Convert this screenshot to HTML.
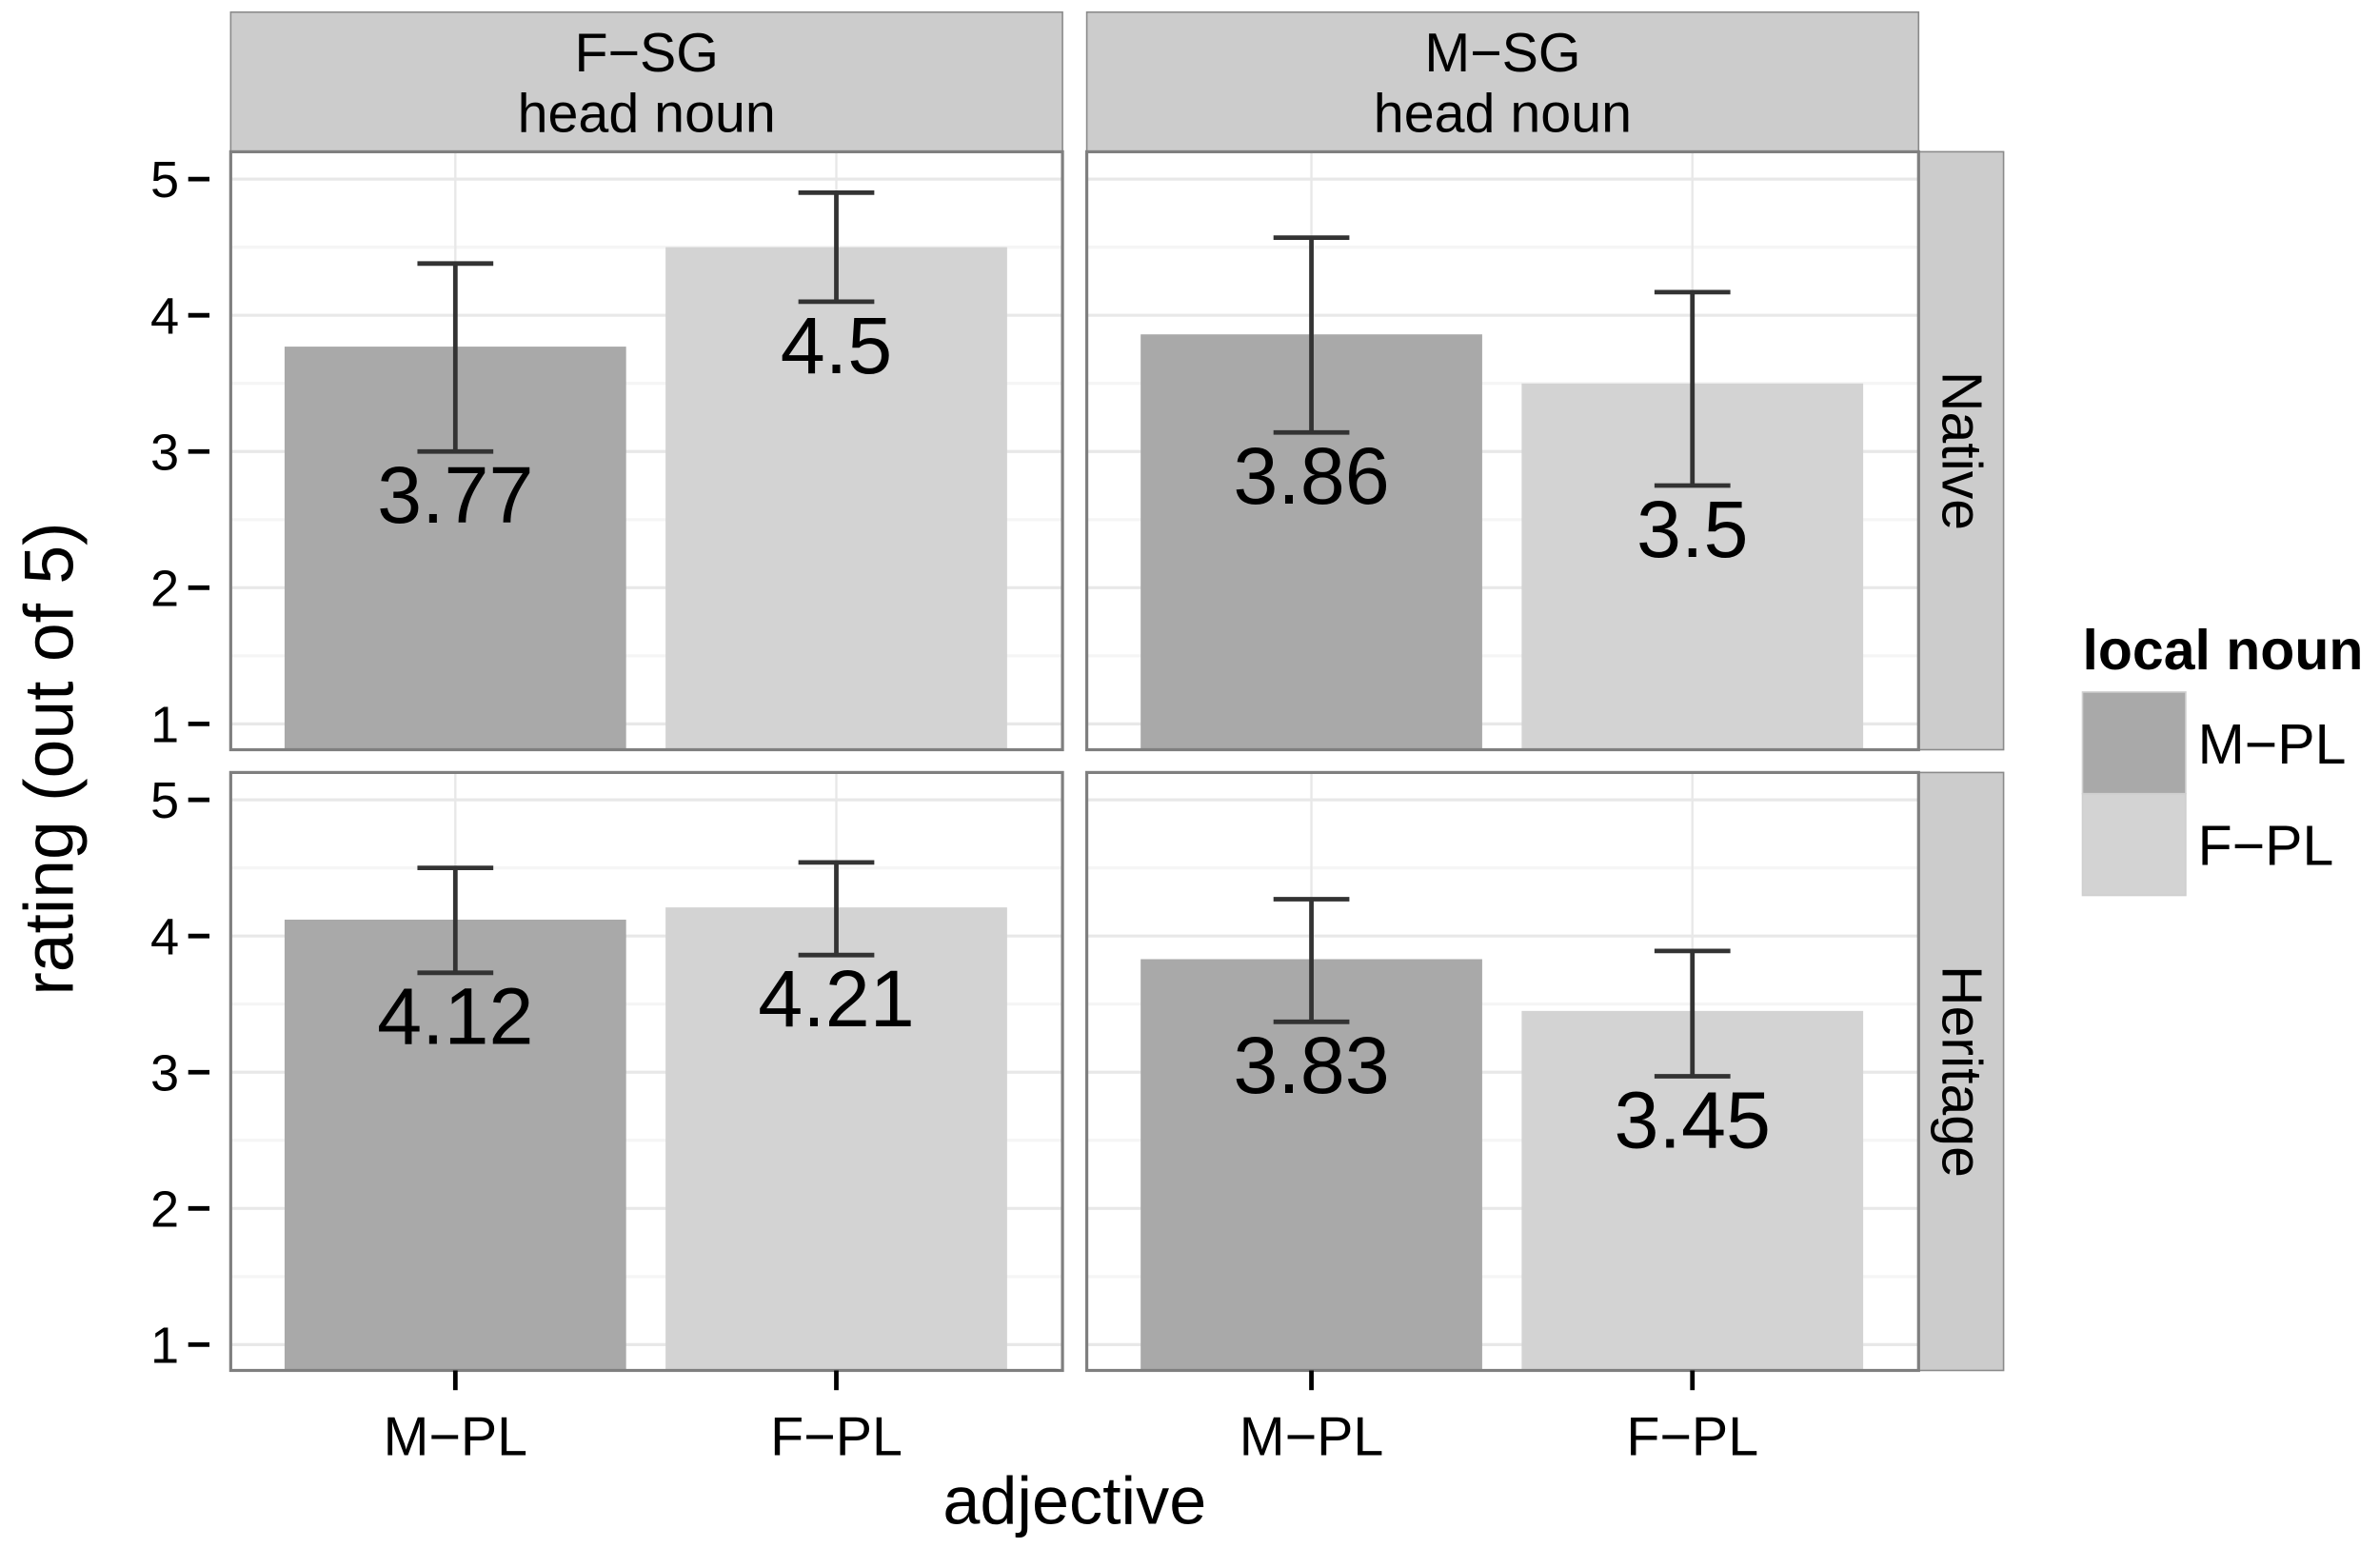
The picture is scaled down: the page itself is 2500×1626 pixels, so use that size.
<!DOCTYPE html>
<html><head><meta charset="utf-8"><style>
html,body{margin:0;padding:0;background:#fff}
svg{display:block}
text{font-family:"Liberation Sans",sans-serif;fill:#000}
</style></head><body>
<svg id="chart" width="2500" height="1626" viewBox="0 0 1568 1020" preserveAspectRatio="none" xmlns="http://www.w3.org/2000/svg">
<g id="root"></g>
</svg>
<script>
const headNouns = ["F−SG", "M−SG"];
const groups = ["Native", "Heritage"];
const adjectives = ["M−PL", "F−PL"];
const yTicks = [1, 2, 3, 4, 5];
// values[group][headNoun][adjective]
const meanNative = [[3.77, 4.5], [3.86, 3.5]];
const lowerNative = [[3.0, 4.1], [3.14, 2.75]];
const upperNative = [[4.38, 4.9], [4.57, 4.17]];
const meanHeritage = [[4.12, 4.21], [3.83, 3.45]];
const lowerHeritage = [[3.73, 3.86], [3.37, 2.97]];
const upperHeritage = [[4.5, 4.54], [4.27, 3.89]];
const labelNative = [["3.77", "4.5"], ["3.86", "3.5"]];
const labelHeritage = [["4.12", "4.21"], ["3.83", "3.45"]];

const NS = "http://www.w3.org/2000/svg";
const root = document.getElementById("root");
function el(tag, attrs, parent, txt) {
  const e = document.createElementNS(NS, tag);
  for (const k in attrs) e.setAttribute(k, attrs[k]);
  if (txt !== undefined) e.textContent = txt;
  (parent || root).appendChild(e);
  return e;
}
const panelX = [152, 716], panelW = 548;
const rowTop = [100, 509], rowH = 394;
const tick5 = [118, 527], unit = 89.75;
function yScale(r, v) { return tick5[r] + (5 - v) * unit; }
function xScale(c, i) { return panelX[c] + 148 + i * 251; }
const barW = 225, fills = ["#a9a9a9", "#d3d3d3"];
const means = [meanNative, meanHeritage], lowers = [lowerNative, lowerHeritage], uppers = [upperNative, upperHeritage], labels = [labelNative, labelHeritage];

for (let c = 0; c < 2; c++) {
  const s = el("rect", {x: panelX[c], y: 8, width: panelW, height: 92, fill: "#cccccc", stroke: "#8a8a8a", "stroke-width": 1});
  
  
  const t1 = el("text", {x: panelX[c] + panelW / 2, y: 47, "text-anchor": "middle", "font-size": 36}, null, headNouns[c]);
  
  
  const t2 = el("text", {x: panelX[c] + panelW / 2, y: 87, "text-anchor": "middle", "font-size": 36}, null, "head noun");
  
  
}
for (let r = 0; r < 2; r++) {
  const rs = el("rect", {x: 1264, y: rowTop[r], width: 56, height: rowH, fill: "#cccccc", stroke: "#8a8a8a", "stroke-width": 1});
  
  
  const cy = rowTop[r] + rowH / 2;
  const rt = el("text", {x: 1292, y: cy, "text-anchor": "middle", "dominant-baseline": "central", "font-size": 37, transform: `rotate(90 1292 ${cy})`}, null, groups[r]);
  
  
  for (const v of yTicks) {
    const y = yScale(r, v);
    const tl = el("line", {x1: 124, x2: 138, y1: y, y2: y, stroke: "#000", "stroke-width": 3});
    
    
    const tt = el("text", {x: 118, y: y + 12, "text-anchor": "end", "font-size": 34}, null, String(v));
    
    
  }
  for (let c = 0; c < 2; c++) {
    const g = el("g", {});
    
    
    el("rect", {x: panelX[c], y: rowTop[r], width: panelW, height: rowH, fill: "#fff"}, g);
    for (let v = 1.5; v <= 5; v += 1) {
      const y = yScale(r, v);
      el("line", {x1: panelX[c], x2: panelX[c] + panelW, y1: y, y2: y, stroke: "#f5f5f5", "stroke-width": 2}, g);
    }
    for (const v of yTicks) {
      const y = yScale(r, v);
      el("line", {x1: panelX[c], x2: panelX[c] + panelW, y1: y, y2: y, stroke: "#e8e8e8", "stroke-width": 2}, g);
    }
    for (let i = 0; i < 2; i++) {
      const x = xScale(c, i);
      el("line", {x1: x, x2: x, y1: rowTop[r], y2: rowTop[r] + rowH, stroke: "#e8e8e8", "stroke-width": 1.5}, g);
    }
    for (let i = 0; i < 2; i++) {
      const x = xScale(c, i);
      const m = means[r][c][i], lo = lowers[r][c][i], hi = uppers[r][c][i];
      const yb = rowTop[r] + rowH, ym = yScale(r, m);
      const b = el("rect", {x: x - barW / 2, y: ym, width: barW, height: yb - ym, fill: fills[i]}, g);
      
      
      const eb = el("g", {stroke: "#333", "stroke-width": 3, fill: "none"}, g);
      
      
      const yl = yScale(r, lo), yh = yScale(r, hi);
      el("line", {x1: x, x2: x, y1: yl, y2: yh}, eb);
      el("line", {x1: x - 25, x2: x + 25, y1: yl, y2: yl}, eb);
      el("line", {x1: x - 25, x2: x + 25, y1: yh, y2: yh}, eb);
      const lt = el("text", {x: x, y: yl + 47, "text-anchor": "middle", "font-size": 53}, g, labels[r][c][i]);
      
      
    }
    el("rect", {x: panelX[c], y: rowTop[r], width: panelW, height: rowH, fill: "none", stroke: "#7f7f7f", "stroke-width": 2}, g);
  }
}
for (let c = 0; c < 2; c++) for (let i = 0; i < 2; i++) {
  const x = xScale(c, i);
  const tl = el("line", {x1: x, x2: x, y1: 903, y2: 916, stroke: "#000", "stroke-width": 3});
  
  
  const tt = el("text", {x: x, y: 959, "text-anchor": "middle", "font-size": 36}, null, adjectives[i]);
  
  
}
const xt = el("text", {x: 708, y: 1004, "text-anchor": "middle", "font-size": 44}, null, "adjective");


const yt = el("text", {x: 48, y: 500, "text-anchor": "middle", "font-size": 46, transform: "rotate(-90 48 500)"}, null, "rating (out of 5)");


const lg = el("g", {});


const ltitle = el("text", {x: 1372, y: 441, "font-size": 37, "font-weight": "bold"}, lg, "local noun");


for (let i = 0; i < 2; i++) {
  const y = 456 + i * 67;
  const k = el("rect", {x: 1372, y: y, width: 68, height: 67, fill: fills[i], stroke: "#cfcfcf", "stroke-width": 1}, lg);
  
  
  const kt = el("text", {x: 1448, y: y + 47, "font-size": 37}, lg, adjectives[i]);
  
  
}
</script>
</body></html>
